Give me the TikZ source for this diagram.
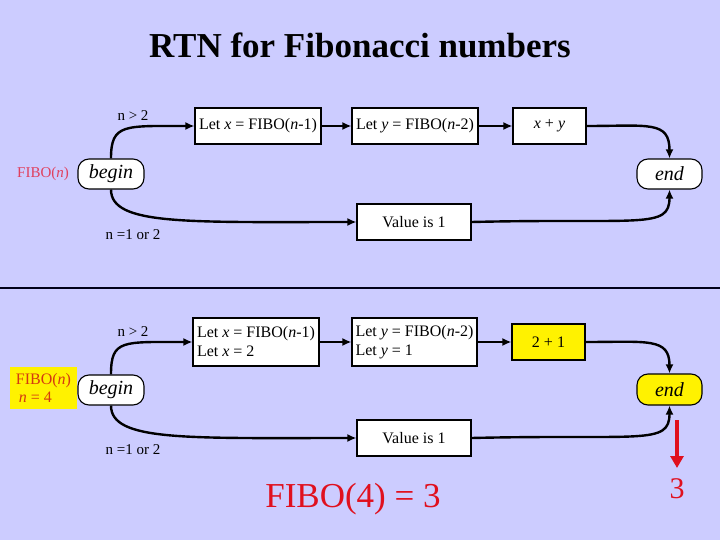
\documentclass[tikz,border=0pt]{standalone}
\usepackage{fontspec}
\setmainfont{Liberation Serif}
\usetikzlibrary{arrows.meta}
\definecolor{bg}{HTML}{CCCCFF}
\definecolor{pinkred}{HTML}{E0405E}
\definecolor{orred}{HTML}{D43A10}
\definecolor{brightred}{HTML}{E0101E}
\tikzset{
  box/.style={draw=black, line width=1.1pt, fill=white, inner sep=2pt, font=\fontsize{16}{19}\selectfont},
  term/.style={draw=black, line width=1.1pt, fill=white, rounded corners=11pt, minimum width=66pt, minimum height=30pt, font=\fontsize{20}{22}\selectfont\itshape},
  lbl/.style={font=\fontsize{15}{18}\selectfont, inner sep=0pt},
  conn/.style={line width=2.4pt, -{Latex[length=9pt,width=8pt]}},
}
\begin{document}
\begin{tikzpicture}[x=1pt,y=-1pt]
\fill[bg] (0,0) rectangle (720,540);
\useasboundingbox (0,0) rectangle (720,540);
\node[font=\fontsize{35}{38}\selectfont\bfseries] (title) at (360,45) {RTN for Fibonacci numbers};
% ---------- top diagram ----------
\node[lbl] (gt1) at (133,116) {n > 2};
\node[box, minimum width=126pt, minimum height=36pt] (a1) at (258,126) {Let \textit{x} = FIBO(\textit{n}-1)};
\node[box, minimum width=126pt, minimum height=36pt] (a2) at (415,126) {Let \textit{y} = FIBO(\textit{n}-2)};
\node[box, minimum width=73pt, minimum height=36pt] (a3) at (549.5,126) {\textit{x} + \textit{y}};
\node[term] (b1) at (111,174) {begin};
\node[term, minimum width=65pt] (e1) at (669.5,174) {end};
\node[lbl, text=pinkred] (f1) at (43,174) {FIBO(\textit{n})};
\node[box, minimum width=114pt, minimum height=36pt] (v1) at (414,222) {Value is 1};
\node[lbl] (lt1) at (133,235) {n =1 or 2};
\draw[conn] (b1.north) .. controls +(0,-35) and +(-70,0) .. (a1.west);
\draw[conn] (a1) -- (a2);
\draw[conn] (a2) -- (a3);
\draw[conn] (a3.east) .. controls +(62,0) and +(0,-38) .. (e1.north);
\draw[conn] (b1.south) .. controls +(0,36) and +(-170,0) .. (v1.west);
\draw[conn] (v1.east) .. controls +(170,-4) and +(0,40) .. (e1.south);
% ---------- separator ----------
\coordinate (sl) at (0,288);
\coordinate (sr) at (720,288);
\draw[line width=1.3pt, black!90!blue] (sl) -- (sr);
% ---------- bottom diagram ----------
\node[lbl] (gt2) at (133,332) {n > 2};
\node[box, minimum width=126pt, minimum height=48pt, align=left] (c1) at (256,342) {Let \textit{x} = FIBO(\textit{n}-1)\\Let \textit{x} = 2};
\node[box, minimum width=125pt, minimum height=48pt, align=left] (c2) at (414.5,342) {Let \textit{y} = FIBO(\textit{n}-2)\\Let \textit{y} = 1};
\node[box, fill=yellow, minimum width=73pt, minimum height=36pt] (c3) at (548.5,342) {2 + 1};
\node[term] (b2) at (111,390) {begin};
\node[term, fill=yellow, minimum width=65pt, minimum height=31pt] (e2) at (669.5,389.5) {end};
\node[fill=yellow, minimum width=67pt, minimum height=42pt, align=left, inner sep=1pt, font=\fontsize{16}{18}\selectfont, text=orred] (f2) at (43.5,388) {FIBO(\textit{n})\\ \hspace*{3pt}\textit{n} = 4};
\node[box, minimum width=114pt, minimum height=36pt] (v2) at (414,438) {Value is 1};
\node[lbl] (lt2) at (133,450) {n =1 or 2};
\draw[conn] (b2.north) .. controls +(0,-35) and +(-70,0) .. (c1.west);
\draw[conn] (c1) -- (c2);
\draw[conn] (c2) -- (c3);
\draw[conn] (c3.east) .. controls +(62,0) and +(0,-36) .. (e2.north);
\draw[conn] (b2.south) .. controls +(0,36) and +(-170,0) .. (v2.west);
\draw[conn] (v2.east) .. controls +(170,-4) and +(0,40) .. (e2.south);
% result
\coordinate (rs) at (677,420);
\node[text=brightred, font=\fontsize{30}{32}\selectfont, inner sep=0pt] (r3) at (677,489) {3};
\draw[brightred, line width=4pt, -{Triangle[length=12pt,width=13pt]}] (rs) -- (677,468);
\node[text=brightred, font=\fontsize{35}{38}\selectfont, inner sep=0pt] (res) at (353,499) {FIBO(4) = 3};
\end{tikzpicture}
\end{document}
